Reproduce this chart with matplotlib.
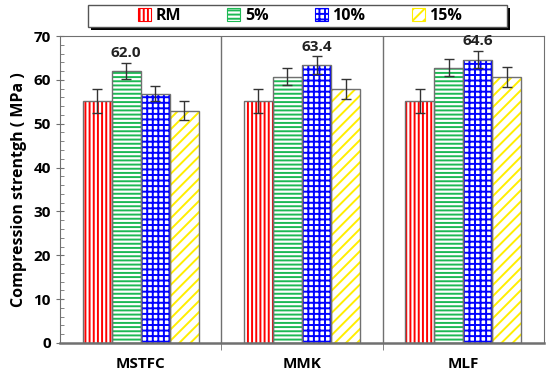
import matplotlib
matplotlib.use("Agg")
import matplotlib.pyplot as plt
import matplotlib.patches as mpatches
import numpy as np

plt.rcParams['font.family'] = ['Open Sans', 'DejaVu Sans']
plt.rcParams['hatch.linewidth'] = 1.4

groups = ["MSTFC", "MMK", "MLF"]
series = ["RM", "5%", "10%", "15%"]
values = {
    "RM":  [55.2, 55.2, 55.2],
    "5%":  [62.0, 60.7, 62.8],
    "10%": [56.8, 63.4, 64.6],
    "15%": [53.0, 57.9, 60.6],
}
errors = {
    "RM":  [2.8, 2.8, 2.8],
    "5%":  [1.8, 1.9, 1.9],
    "10%": [1.7, 2.0, 2.0],
    "15%": [2.2, 2.3, 2.3],
}
annotations = [("5%", 0, "62.0"), ("10%", 1, "63.4"), ("10%", 2, "64.6")]

colors = {"RM": "#ff0000", "5%": "#1db954", "10%": "#0000ff", "15%": "#ffee00"}
hatches = {"RM": "||||", "5%": "----", "10%": "+++", "15%": "///"}

fig = plt.figure(figsize=(5.5, 3.77), dpi=100)
ax = fig.add_axes([60/550, 34/377, 484/550, 307/377])

x = np.arange(len(groups))
w = 0.18
offsets = [-0.27, -0.09, 0.09, 0.27]
for s, off in zip(series, offsets):
    ax.bar(x + off, values[s], w, color="white", edgecolor=colors[s],
           hatch=hatches[s], linewidth=0, zorder=2)
    ax.bar(x + off, values[s], w, color="none", edgecolor="#707070",
           linewidth=1.0, zorder=3)
    ax.errorbar(x + off, values[s], yerr=errors[s], fmt="none",
                ecolor="#333333", elinewidth=1.0, capsize=3.5, capthick=1.0, zorder=4)

for s, gi, txt in annotations:
    i = series.index(s)
    ax.text(gi + offsets[i], values[s][gi] + 2.6,
            txt, ha="center", va="bottom", fontsize=11, fontweight="bold", color="#222222")

for xs in [0.5, 1.5]:
    ax.axvline(xs, color="#707070", linewidth=1.0, zorder=1)

ax.set_xlim(-0.5, 2.5)
ax.set_ylim(0, 70)
ax.set_yticks(np.arange(0, 71, 10))
ax.set_yticks(np.arange(0, 71, 2), minor=True)
ax.set_xticks(x)
ax.set_xticklabels(groups, fontsize=11, fontweight="bold")
ax.set_xticks([0.5, 1.5], minor=True)
ax.tick_params(axis="x", which="major", length=0, pad=10)
ax.tick_params(axis="x", which="minor", length=5, direction="out", color="#707070")
ax.tick_params(axis="y", which="major", length=6, direction="inout", color="#707070",
               labelsize=11)
ax.tick_params(axis="y", which="minor", length=3, direction="in", color="#707070")
for lab in ax.get_yticklabels():
    lab.set_fontweight("bold")
for sp in ax.spines.values():
    sp.set_color("#707070")
ax.spines["bottom"].set_linewidth(1.8)
ax.set_ylabel("Compression strentgh ( MPa )", fontsize=11.5, fontweight="bold", labelpad=5)

# legend box with shadow
bx, by, bw, bh = 88/550, 1 - 27/377, 419/550, 22/377
shadow = mpatches.Rectangle((bx + 2.5/550, by - 3/377), bw, bh, transform=fig.transFigure,
                            facecolor="black", edgecolor="none", zorder=5)
box = mpatches.Rectangle((bx, by), bw, bh, transform=fig.transFigure,
                         facecolor="white", edgecolor="#555555", linewidth=1.0, zorder=6)
fig.add_artist(shadow)
fig.add_artist(box)

handles = [mpatches.Patch(facecolor="white", edgecolor=colors[s], hatch=hatches[s],
                          linewidth=0.8, label=s) for s in series]
leg = fig.legend(handles=handles, loc="center", bbox_to_anchor=(300/550, 1 - 16/377),
                 ncol=4, frameon=False,
                 handlelength=0.8, handleheight=0.9, handletextpad=0.3,
                 columnspacing=2.9, borderpad=0.2,
                 prop={"weight": "bold", "size": 11.5})
leg.set_zorder(7)

fig.savefig("out.png", dpi=100)
